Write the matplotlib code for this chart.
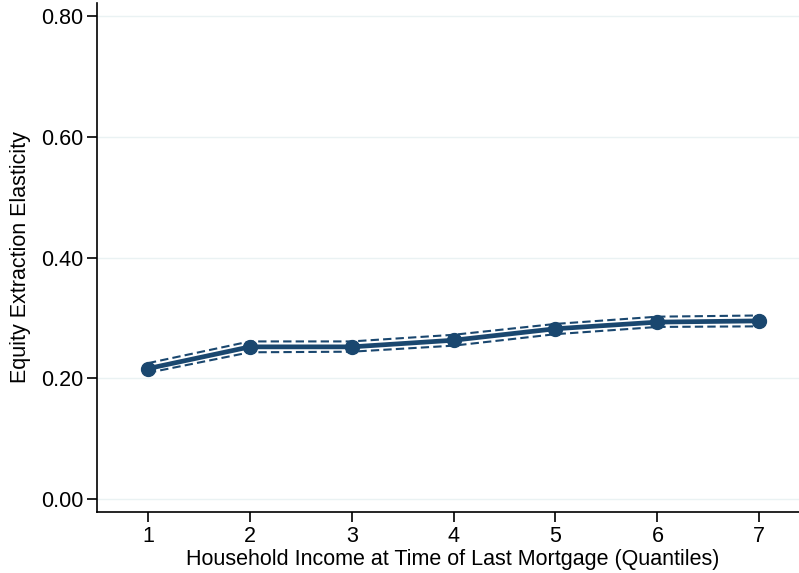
import matplotlib
matplotlib.use("Agg")
import matplotlib.pyplot as plt

plt.rcParams['font.family'] = ['Liberation Sans', 'DejaVu Sans']

# Income quantiles and estimated elasticities with confidence bands
quantiles = [1, 2, 3, 4, 5, 6, 7]
elasticity = [0.216, 0.252, 0.252, 0.263, 0.282, 0.293, 0.295]
ci_upper = [0.225, 0.261, 0.261, 0.272, 0.290, 0.302, 0.304]
ci_lower = [0.209, 0.243, 0.244, 0.254, 0.273, 0.285, 0.286]
yticks = [0.0, 0.2, 0.4, 0.6, 0.8]

navy = '#1a476f'

fig = plt.figure(figsize=(7.99, 5.73), dpi=100)
ax = fig.add_axes([97/799, 61/573, 1 - 97/799, 509/573])

ax.plot(quantiles, ci_upper, color=navy, lw=1.5, ls=(0, (4, 2)))
ax.plot(quantiles, ci_lower, color=navy, lw=1.5, ls=(0, (4, 2)))
ax.plot(quantiles, elasticity, color=navy, lw=3.4, marker='o', ms=10)

ax.set_xlim(0.5, 7.39)
ax.set_ylim(-0.0215, 0.8215)
ax.set_xticks(quantiles)
ax.set_yticks(yticks)
ax.set_yticklabels(['%.2f' % v for v in yticks])
ax.yaxis.grid(True, color='#eaf2f3', lw=1)
ax.set_axisbelow(True)

for s in ['top', 'right']:
    ax.spines[s].set_visible(False)
for s in ['left', 'bottom']:
    ax.spines[s].set_linewidth(1.2)
ax.tick_params(direction='out', length=7, width=1.2, labelsize=15.5, pad=3)

ax.set_xlabel('Household Income at Time of Last Mortgage (Quantiles)', fontsize=15.5, labelpad=1.5)
ax.set_ylabel('Equity Extraction Elasticity', fontsize=15.5, labelpad=7)
ax.xaxis.set_label_coords(0.506, -0.072)

fig.savefig('out.png', dpi=100)
